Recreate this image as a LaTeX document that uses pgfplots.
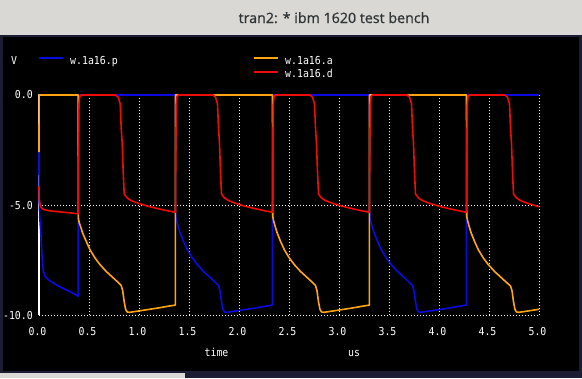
\documentclass[border=0pt]{standalone}
\usepackage{fontspec}
\usepackage{pgfplots}
\pgfplotsset{compat=1.18}
\newfontfamily\monof[FakeStretch=0.9]{DejaVu Sans Mono}
\newfontfamily\titlef[FakeBold=0.8]{Open Sans}
\definecolor{tbar}{RGB}{218,216,213}
\definecolor{navy}{RGB}{28,28,52}
\definecolor{tblue}{RGB}{10,10,225}
\definecolor{torange}{RGB}{255,165,20}
\definecolor{tred}{RGB}{240,10,10}
\definecolor{ttext}{RGB}{46,52,54}
\newcommand{\mf}{\monof\fontsize{11}{13}\selectfont}
\begin{document}
\begin{tikzpicture}[x=1bp,y=1bp]
\useasboundingbox (0,0) rectangle (582,378);
\fill[black] (0,0) rectangle (582,378);
\fill[tbar] (0,343) rectangle (582,378);
\fill[navy] (0,341) rectangle (582,343);
\fill[navy] (0,0) rectangle (3,341);
\fill[navy] (579,0) rectangle (582,341);
\fill[navy] (0,0) rectangle (582,7);
\fill[tbar] (0,0) rectangle (185,5);
\node[anchor=base, font=\titlef\fontsize{14.3}{16}\selectfont, text=ttext, inner sep=0] at (334,355) {tran2: * ibm 1620 test bench};

\begin{axis}[at={(39bp,63bp)}, anchor=south west, scale only axis,
  width=500bp, height=220bp, xmin=0, xmax=5, ymin=-10, ymax=0, clip=false,
  axis line style={draw=none},
  xtick={0,0.5,1,1.5,2,2.5,3,3.5,4,4.5,5}, ytick={-10,-5,0},
  xticklabels={0.0,0.5,1.0,1.5,2.0,2.5,3.0,3.5,4.0,4.5,5.0},
  yticklabels={-10.0,-5.0,0.0},
  major tick length=0pt, tick style={draw=none},
  grid=major, major grid style={white, line width=1bp, dash pattern=on 1bp off 2bp},
  ticklabel style={font=\mf, text=white, inner sep=0pt},
  xticklabel style={anchor=base, yshift=-20bp, xshift=-1.5bp},
  yticklabel style={anchor=base east, xshift=-6bp, yshift=-4bp},
  every axis plot/.append style={line width=1.6bp, line join=round}]
\addplot[white, line width=1.2bp] coordinates {(0,-10)(0,0)(5,0)};
\addplot[tblue] coordinates {
(0,-2.6)(0.001,-4.7)(0.008,-5.6)(0.02,-6.4)(0.03,-7.3)(0.043,-8.0)(0.06,-8.22)(0.077,-8.33)(0.12,-8.48)(0.2,-8.7)(0.3,-8.92)(0.385,-9.12)(0.391,-9.15)(0.392,0)
(1.365,0)(1.367,-5.5)(1.375,-5.7)(1.39,-5.95)(1.41,-6.25)(1.445,-6.65)(1.485,-7.05)(1.535,-7.42)(1.585,-7.72)(1.645,-8.02)(1.705,-8.27)(1.765,-8.52)(1.795,-8.66)(1.81,-8.9)(1.825,-9.4)(1.84,-9.75)(1.855,-9.86)(1.875,-9.88)(1.965,-9.82)(2.065,-9.75)(2.165,-9.68)(2.265,-9.6)(2.333,-9.55)(2.335,0)
(3.305,0)(3.307,-5.5)(3.315,-5.7)(3.33,-5.95)(3.35,-6.25)(3.385,-6.65)(3.425,-7.05)(3.475,-7.42)(3.525,-7.72)(3.585,-8.02)(3.645,-8.27)(3.705,-8.52)(3.735,-8.66)(3.75,-8.9)(3.765,-9.4)(3.78,-9.75)(3.795,-9.86)(3.815,-9.88)(3.905,-9.82)(4.005,-9.75)(4.105,-9.68)(4.205,-9.6)(4.273,-9.55)(4.275,0)(5,0)};
\addplot[torange] coordinates {
(0,-2.6)(0.001,0)(0.392,0)(0.394,-5.6)(0.402,-5.8)(0.417,-6.0)(0.437,-6.28)(0.472,-6.65)(0.512,-7.05)(0.562,-7.42)(0.612,-7.72)(0.672,-8.02)(0.732,-8.27)(0.792,-8.52)(0.822,-8.66)(0.837,-8.9)(0.852,-9.4)(0.867,-9.75)(0.882,-9.86)(0.902,-9.88)(0.992,-9.82)(1.092,-9.75)(1.192,-9.68)(1.292,-9.6)(1.363,-9.55)(1.365,0)
(2.335,0)(2.337,-5.5)(2.345,-5.7)(2.36,-5.95)(2.38,-6.25)(2.415,-6.65)(2.455,-7.05)(2.505,-7.42)(2.555,-7.72)(2.615,-8.02)(2.675,-8.27)(2.735,-8.52)(2.765,-8.66)(2.78,-8.9)(2.795,-9.4)(2.81,-9.75)(2.825,-9.86)(2.845,-9.88)(2.935,-9.82)(3.035,-9.75)(3.135,-9.68)(3.235,-9.6)(3.303,-9.55)(3.305,0)
(4.275,0)(4.277,-5.5)(4.285,-5.7)(4.3,-5.95)(4.32,-6.25)(4.355,-6.65)(4.395,-7.05)(4.445,-7.42)(4.495,-7.72)(4.555,-8.02)(4.615,-8.27)(4.675,-8.52)(4.715,-8.68)(4.73,-8.9)(4.745,-9.4)(4.76,-9.75)(4.775,-9.86)(4.795,-9.88)(4.885,-9.82)(5.0,-9.74)};
\addplot[tred] coordinates {
(0,-4.15)(0.002,-4.7)(0.01,-4.95)(0.02,-5.1)(0.043,-5.2)(0.1,-5.26)(0.2,-5.31)(0.3,-5.35)(0.39,-5.4)
(0.392,-5.4)(0.395,-2.5)(0.4,-0.4)(0.407,-0.08)(0.422,0)(0.767,0)(0.792,-0.1)(0.812,-0.4)(0.822,-1.5)(0.832,-2.2)(0.842,-3.5)(0.852,-4.5)(0.882,-4.68)(0.922,-4.8)(0.992,-4.92)(1.092,-5.06)(1.192,-5.17)(1.292,-5.27)(1.363,-5.33)
(1.365,-5.33)(1.368,-2.5)(1.373,-0.4)(1.38,-0.08)(1.395,0)(1.74,0)(1.765,-0.1)(1.785,-0.4)(1.795,-1.5)(1.805,-2.2)(1.815,-3.5)(1.825,-4.5)(1.855,-4.68)(1.895,-4.8)(1.965,-4.92)(2.065,-5.06)(2.165,-5.17)(2.265,-5.27)(2.333,-5.33)
(2.335,-5.33)(2.338,-2.5)(2.343,-0.4)(2.35,-0.08)(2.365,0)(2.71,0)(2.735,-0.1)(2.755,-0.4)(2.765,-1.5)(2.775,-2.2)(2.785,-3.5)(2.795,-4.5)(2.825,-4.68)(2.865,-4.8)(2.935,-4.92)(3.035,-5.06)(3.135,-5.17)(3.235,-5.27)(3.303,-5.33)
(3.305,-5.33)(3.308,-2.5)(3.313,-0.4)(3.32,-0.08)(3.335,0)(3.68,0)(3.705,-0.1)(3.725,-0.4)(3.735,-1.5)(3.745,-2.2)(3.755,-3.5)(3.765,-4.5)(3.795,-4.68)(3.835,-4.8)(3.905,-4.92)(4.005,-5.06)(4.105,-5.17)(4.205,-5.27)(4.273,-5.33)
(4.275,-5.33)(4.278,-2.5)(4.283,-0.4)(4.29,-0.08)(4.305,0)(4.66,0)(4.685,-0.1)(4.705,-0.4)(4.715,-1.5)(4.725,-2.2)(4.735,-3.5)(4.745,-4.5)(4.775,-4.68)(4.815,-4.8)(4.885,-4.92)(4.985,-5.06)(5.0,-5.08)};
\end{axis}

\node[anchor=base west, inner sep=0, font=\mf, text=white] at (11,314) {V};
\draw[tblue, line width=2bp] (39,320) -- (63,320);
\node[anchor=base west, inner sep=0, font=\mf, text=white] at (70,314) {w.1a16.p};
\draw[torange, line width=2bp] (254,320) -- (278,320);
\node[anchor=base west, inner sep=0, font=\mf, text=white] at (285,314) {w.1a16.a};
\draw[tred, line width=2bp] (254,305.7) -- (278,305.7);
\node[anchor=base west, inner sep=0, font=\mf, text=white] at (285,300.3) {w.1a16.d};
\node[anchor=base, inner sep=0, font=\mf, text=white] at (216.5,22) {time};
\node[anchor=base, inner sep=0, font=\mf, text=white] at (354,22) {us};
\end{tikzpicture}
\end{document}
